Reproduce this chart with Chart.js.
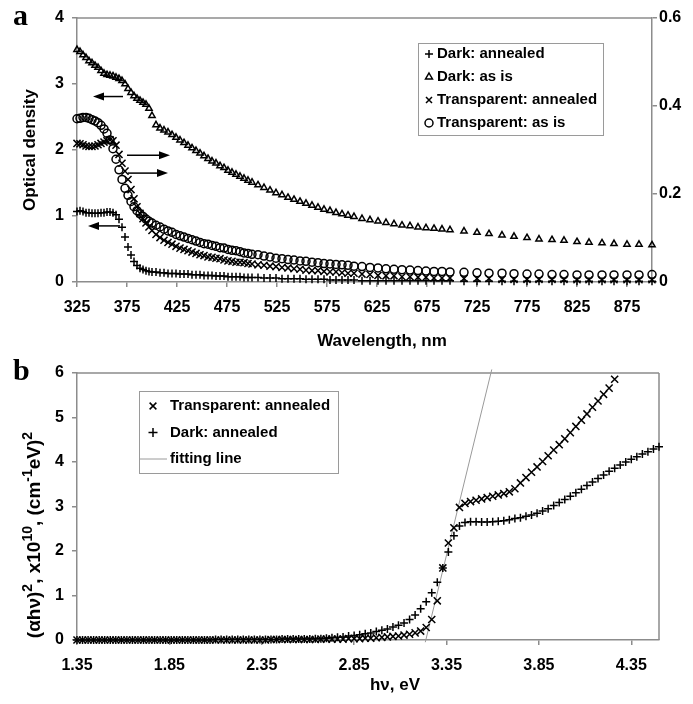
<!DOCTYPE html>
<html>
<head>
<meta charset="utf-8">
<script src="https://cdn.jsdelivr.net/npm/chart.js@4.4.1/dist/chart.umd.min.js"></script>
<style>
  body { margin: 0; background: #fff; }
  #wrap { position: relative; width: 693px; height: 704px; background: #fff; }
  canvas { position: absolute; left: 0; }
  #chartA { top: 0; }
  #chartB { top: 352px; }
</style>
</head>
<body>
<div id="wrap">
  <canvas id="chartA" width="693" height="352"></canvas>
  <canvas id="chartB" width="693" height="352"></canvas>
</div>
<script>
// ---------- panel a: optical density vs wavelength ----------
var wavelengths = [
  325, 328, 331, 334, 337, 340, 343, 346, 349, 352, 355, 358, 361, 364, 367, 370, 373, 376, 379, 382, 385, 388, 391, 394, 397, 400,
  404, 408, 412, 416, 420, 424, 428, 432, 436, 440, 444, 448, 452, 456, 460, 464, 468, 472, 476, 480, 484, 488, 492, 496, 500,
  506, 512, 518, 524, 530, 536, 542, 548, 554, 560, 566, 572, 578, 584, 590, 596, 602,
  610, 618, 626, 634, 642, 650, 658, 666, 674, 682, 690, 698,
  712, 725, 737, 750, 762, 775, 787, 800, 812, 825, 837, 850, 862, 875, 887, 900
];
// left axis
var darkAnnealed = [
  1.07, 1.08, 1.07, 1.05, 1.05, 1.04, 1.04, 1.04, 1.05, 1.05, 1.06, 1.06, 1.05, 1.02, 0.95, 0.83, 0.68, 0.53, 0.41, 0.31, 0.25, 0.21, 0.19, 0.17, 0.16, 0.15,
  0.15, 0.14, 0.14, 0.13, 0.13, 0.13, 0.12, 0.12, 0.12, 0.11, 0.11, 0.11, 0.10, 0.10, 0.10, 0.09, 0.09, 0.09, 0.08, 0.08, 0.08, 0.08, 0.07, 0.07, 0.07,
  0.07, 0.06, 0.06, 0.06, 0.05, 0.05, 0.05, 0.05, 0.04, 0.04, 0.04, 0.04, 0.03, 0.03, 0.03, 0.03, 0.03,
  0.02, 0.02, 0.02, 0.02, 0.02, 0.02, 0.02, 0.02, 0.02, 0.02, 0.02, 0.02,
  0.01, 0.01, 0.01, 0.01, 0.01, 0.01, 0.01, 0.01, 0.01, 0.01, 0.01, 0.01, 0.01, 0.01, 0.01, 0.01
];
var darkAsIs = [
  3.52, 3.49, 3.44, 3.40, 3.35, 3.32, 3.28, 3.25, 3.20, 3.16, 3.14, 3.13, 3.12, 3.10, 3.08, 3.05, 3.00, 2.93, 2.87, 2.82, 2.78, 2.75, 2.72, 2.69, 2.63, 2.52,
  2.38, 2.33, 2.30, 2.27, 2.23, 2.19, 2.15, 2.11, 2.07, 2.03, 1.99, 1.95, 1.91, 1.87, 1.83, 1.80, 1.76, 1.73, 1.69, 1.66, 1.63, 1.60, 1.57, 1.54, 1.51,
  1.47, 1.43, 1.39, 1.35, 1.32, 1.28, 1.25, 1.22, 1.19, 1.16, 1.13, 1.10, 1.08, 1.05, 1.03, 1.01, 0.99,
  0.96, 0.94, 0.92, 0.90, 0.88, 0.86, 0.85, 0.83, 0.82, 0.81, 0.80, 0.79,
  0.77, 0.75, 0.73, 0.71, 0.69, 0.67, 0.65, 0.64, 0.63, 0.61, 0.60, 0.59, 0.58, 0.57, 0.57, 0.56
];
// right axis
var transparentAnnealed = [
  0.315, 0.314, 0.312, 0.309, 0.308, 0.308, 0.309, 0.312, 0.315, 0.318, 0.321, 0.323, 0.321, 0.311, 0.290, 0.270, 0.252, 0.233, 0.210, 0.189, 0.171, 0.156, 0.144, 0.134, 0.125, 0.117,
  0.108, 0.101, 0.095, 0.090, 0.086, 0.081, 0.077, 0.074, 0.071, 0.068, 0.065, 0.062, 0.060, 0.057, 0.056, 0.054, 0.053, 0.050, 0.048, 0.047, 0.045, 0.045, 0.044, 0.042, 0.041,
  0.039, 0.038, 0.036, 0.035, 0.033, 0.032, 0.030, 0.029, 0.027, 0.026, 0.026, 0.024, 0.023, 0.023, 0.021, 0.020, 0.020,
  0.018, 0.017, 0.015, 0.014, 0.014, 0.012, 0.012, 0.011, 0.011, 0.009, 0.009, 0.009,
  0.008, 0.008, 0.008, 0.006, 0.006, 0.006, 0.006, 0.006, 0.006, 0.005, 0.005, 0.005, 0.005, 0.005, 0.005, 0.005
];
var transparentAsIs = [
  0.371, 0.372, 0.374, 0.374, 0.372, 0.369, 0.366, 0.362, 0.356, 0.348, 0.338, 0.323, 0.303, 0.279, 0.255, 0.233, 0.213, 0.197, 0.183, 0.171, 0.162, 0.155, 0.149, 0.143, 0.138, 0.134,
  0.129, 0.125, 0.120, 0.116, 0.113, 0.108, 0.105, 0.102, 0.099, 0.096, 0.093, 0.090, 0.087, 0.086, 0.083, 0.081, 0.078, 0.077, 0.074, 0.072, 0.071, 0.069, 0.066, 0.065, 0.063,
  0.062, 0.059, 0.057, 0.054, 0.053, 0.051, 0.050, 0.048, 0.047, 0.045, 0.044, 0.042, 0.041, 0.040, 0.039, 0.038, 0.036,
  0.035, 0.033, 0.032, 0.030, 0.029, 0.028, 0.027, 0.026, 0.025, 0.024, 0.024, 0.023,
  0.022, 0.021, 0.020, 0.020, 0.019, 0.018, 0.018, 0.017, 0.017, 0.016, 0.016, 0.016, 0.016, 0.016, 0.016, 0.017
];
var wavelengthTicks = [325, 375, 425, 475, 525, 575, 625, 675, 725, 775, 825, 875];
var odTicks = [0, 1, 2, 3, 4];
var odRightTicks = [0, 0.2, 0.4, 0.6];

// ---------- panel b: (alpha h nu)^2 vs photon energy ----------
var energies = [
  1.35, 1.38, 1.41, 1.44, 1.47, 1.50, 1.53, 1.56, 1.59, 1.62,
  1.65, 1.68, 1.71, 1.74, 1.77, 1.80, 1.83, 1.86, 1.89, 1.92,
  1.95, 1.98, 2.01, 2.04, 2.07, 2.10, 2.13, 2.16, 2.19, 2.22,
  2.25, 2.28, 2.31, 2.34, 2.37, 2.40, 2.43, 2.46, 2.49, 2.52,
  2.55, 2.58, 2.61, 2.64, 2.67, 2.70, 2.73, 2.76, 2.79, 2.82,
  2.85, 2.88, 2.91, 2.94, 2.97, 3.00, 3.03, 3.06, 3.09, 3.12,
  3.15, 3.18, 3.21, 3.24, 3.27, 3.30, 3.33, 3.36, 3.39, 3.42,
  3.45, 3.48, 3.51, 3.54, 3.57, 3.60, 3.63, 3.66, 3.69, 3.72,
  3.75, 3.78, 3.81, 3.84, 3.87, 3.90, 3.93, 3.96, 3.99, 4.02,
  4.05, 4.08, 4.11, 4.14, 4.17, 4.20, 4.23, 4.26, 4.29, 4.32,
  4.35, 4.38, 4.41, 4.44, 4.47, 4.50
];
var tTransparentAnnealed = [
  0.00, 0.00, 0.00, 0.00, 0.00, 0.00, 0.00, 0.00, 0.00, 0.00,
  0.00, 0.00, 0.00, 0.00, 0.00, 0.00, 0.00, 0.00, 0.00, 0.00,
  0.00, 0.00, 0.00, 0.00, 0.00, 0.00, 0.00, 0.00, 0.00, 0.00,
  0.00, 0.00, 0.00, 0.00, 0.00, 0.01, 0.01, 0.01, 0.01, 0.01,
  0.01, 0.01, 0.01, 0.01, 0.02, 0.02, 0.02, 0.02, 0.02, 0.03,
  0.03, 0.03, 0.04, 0.04, 0.05, 0.06, 0.07, 0.08, 0.09, 0.11,
  0.13, 0.16, 0.20, 0.28, 0.46, 0.88, 1.62, 2.18, 2.52, 2.98,
  3.07, 3.11, 3.14, 3.17, 3.20, 3.23, 3.26, 3.29, 3.33, 3.40,
  3.53, 3.65, 3.77, 3.89, 4.01, 4.14, 4.27, 4.39, 4.52, 4.66,
  4.80, 4.94, 5.08, 5.23, 5.37, 5.52, 5.66, 5.86, null, null,
  null, null, null, null, null, null
];
var tDarkAnnealed = [
  0.00, 0.00, 0.00, 0.00, 0.00, 0.00, 0.00, 0.00, 0.00, 0.00,
  0.00, 0.00, 0.00, 0.00, 0.00, 0.00, 0.00, 0.00, 0.00, 0.00,
  0.00, 0.00, 0.00, 0.00, 0.00, 0.01, 0.01, 0.01, 0.01, 0.01,
  0.01, 0.01, 0.01, 0.01, 0.01, 0.01, 0.01, 0.02, 0.02, 0.02,
  0.02, 0.02, 0.02, 0.03, 0.03, 0.04, 0.05, 0.06, 0.07, 0.09,
  0.10, 0.12, 0.14, 0.16, 0.19, 0.22, 0.25, 0.29, 0.33, 0.38,
  0.46, 0.56, 0.70, 0.86, 1.06, 1.30, 1.62, 1.98, 2.34, 2.56,
  2.64, 2.66, 2.66, 2.65, 2.65, 2.66, 2.67, 2.68, 2.70, 2.73,
  2.75, 2.78, 2.81, 2.85, 2.90, 2.95, 3.02, 3.09, 3.16, 3.23,
  3.31, 3.39, 3.47, 3.55, 3.63, 3.71, 3.79, 3.86, 3.93, 4.00,
  4.06, 4.12, 4.18, 4.23, 4.29, 4.34
];
var fitLineX = [3.235, 3.595];
var fitLineY = [-0.05, 6.08];
var energyTicks = [1.35, 1.85, 2.35, 2.85, 3.35, 3.85, 4.35];
var tTicks = [0, 1, 2, 3, 4, 5, 6];

var AXIS_GRAY = '#8c8c8c';
var SANS = '"Liberation Sans", Arial, Helvetica, sans-serif';
Chart.defaults.font.family = SANS;
Chart.defaults.font.weight = 'bold';
Chart.defaults.color = '#000';

function pts(xs, ys) {
  var out = [];
  for (var i = 0; i < xs.length; i++) {
    if (ys[i] !== null) out.push({ x: xs[i], y: ys[i] });
  }
  return out;
}

function fixedTicks(values) {
  return function (scale) {
    scale.ticks = values.map(function (v) { return { value: v }; });
  };
}

function tickLabel(v) { return String(v); }

function drawMarker(ctx, style, x, y, r) {
  ctx.beginPath();
  if (style === 'cross') {
    ctx.moveTo(x - r, y); ctx.lineTo(x + r, y);
    ctx.moveTo(x, y - r); ctx.lineTo(x, y + r);
  } else if (style === 'crossRot') {
    var d = r * 0.75;
    ctx.moveTo(x - d, y - d); ctx.lineTo(x + d, y + d);
    ctx.moveTo(x - d, y + d); ctx.lineTo(x + d, y - d);
  } else if (style === 'triangle') {
    ctx.moveTo(x, y - r);
    ctx.lineTo(x + r * 0.866, y + r / 2);
    ctx.lineTo(x - r * 0.866, y + r / 2);
    ctx.closePath();
  } else if (style === 'circle') {
    ctx.arc(x, y, r, 0, Math.PI * 2);
  } else {
    ctx.moveTo(x - r, y); ctx.lineTo(x + r, y);
  }
  ctx.stroke();
}

// axis title made of normal and superscript pieces, centred on (x, y)
function drawTitle(ctx, t) {
  var size = t.size, sup = t.supSize || Math.round(size * 0.65);
  ctx.save();
  ctx.translate(t.x, t.y);
  if (t.rotate) ctx.rotate(-Math.PI / 2);
  var total = 0;
  t.pieces.forEach(function (p) {
    ctx.font = 'bold ' + (p.sup ? sup : size) + 'px ' + SANS;
    p.w = ctx.measureText(p.t).width;
    total += p.w;
  });
  var x = -total / 2, base = size * 0.36;
  ctx.fillStyle = '#000';
  ctx.textAlign = 'left';
  ctx.textBaseline = 'alphabetic';
  t.pieces.forEach(function (p) {
    ctx.font = 'bold ' + (p.sup ? sup : size) + 'px ' + SANS;
    ctx.fillText(p.t, x, p.sup ? base - size * 0.42 : base);
    x += p.w;
  });
  ctx.restore();
}

// frame, arrows, legend box, titles and panel letter
var extrasPlugin = {
  id: 'extras',
  beforeDatasetsDraw: function (chart, args, o) {
    var ctx = chart.ctx, a = chart.chartArea;
    ctx.save();
    ctx.strokeStyle = AXIS_GRAY;
    ctx.lineWidth = 1.5;
    ctx.beginPath();
    ctx.moveTo(a.left, a.top); ctx.lineTo(a.right, a.top);
    if (o.rightEdge) { ctx.moveTo(a.right, a.top); ctx.lineTo(a.right, a.bottom); }
    ctx.stroke();
    ctx.restore();
  },
  afterDraw: function (chart, args, o) {
    var ctx = chart.ctx;
    ctx.save();
    (o.arrows || []).forEach(function (ar) {
      var xs = chart.scales.x, ys = chart.scales.y;
      var x1 = xs.getPixelForValue(ar.from), x2 = xs.getPixelForValue(ar.to), y = ys.getPixelForValue(ar.y);
      var dir = x2 > x1 ? 1 : -1;
      ctx.strokeStyle = '#000'; ctx.fillStyle = '#000'; ctx.lineWidth = 1.5;
      ctx.beginPath(); ctx.moveTo(x1, y); ctx.lineTo(x2 - dir * 8, y); ctx.stroke();
      ctx.beginPath(); ctx.moveTo(x2, y); ctx.lineTo(x2 - dir * 11, y - 4); ctx.lineTo(x2 - dir * 11, y + 4);
      ctx.closePath(); ctx.fill();
    });
    var lg = o.legend;
    if (lg) {
      ctx.fillStyle = '#fff';
      ctx.fillRect(lg.x, lg.y, lg.w, lg.h);
      ctx.strokeStyle = '#9a9a9a'; ctx.lineWidth = 1;
      ctx.strokeRect(lg.x + 0.5, lg.y + 0.5, lg.w, lg.h);
      ctx.font = 'bold 15px ' + SANS;
      ctx.textBaseline = 'middle'; ctx.textAlign = 'left';
      lg.order.forEach(function (di, k) {
        var ds = chart.data.datasets[di];
        var cy = lg.y + lg.first + k * lg.step;
        if (ds.showLine) {
          ctx.strokeStyle = ds.borderColor; ctx.lineWidth = 1;
          drawMarker(ctx, 'line', lg.x + lg.lineHalf, cy, lg.lineHalf);
        } else {
          ctx.strokeStyle = '#000'; ctx.lineWidth = 1.5;
          drawMarker(ctx, ds.pointStyle, lg.x + lg.markerX, cy, lg.markerR);
        }
        ctx.fillStyle = '#000';
        ctx.fillText(ds.label, lg.x + lg.textX, cy);
      });
    }
    (o.titles || []).forEach(function (t) { drawTitle(ctx, t); });
    if (o.letter) {
      ctx.font = 'bold 30px "Liberation Serif", "Times New Roman", serif';
      ctx.fillStyle = '#000'; ctx.textBaseline = 'alphabetic'; ctx.textAlign = 'left';
      ctx.fillText(o.letter.text, o.letter.x, o.letter.y);
    }
    ctx.restore();
  }
};

function markerSet(label, data, style, radius, axisId) {
  return {
    label: label,
    data: data,
    yAxisID: axisId,
    showLine: false,
    pointStyle: style,
    pointRadius: radius,
    pointBorderWidth: 1.5,
    pointBorderColor: '#000',
    pointBackgroundColor: 'rgba(0,0,0,0)',
    clip: false
  };
}

var gridOpts = { drawOnChartArea: false, drawTicks: true, tickLength: 5, tickColor: AXIS_GRAY, lineWidth: 1.5 };
var borderOpts = { color: AXIS_GRAY, width: 1.5 };

new Chart(document.getElementById('chartA'), {
  type: 'scatter',
  data: {
    datasets: [
      markerSet('Dark: annealed', pts(wavelengths, darkAnnealed), 'cross', 4, 'y'),
      markerSet('Dark: as is', pts(wavelengths, darkAsIs), 'triangle', 3.6, 'y'),
      markerSet('Transparent: annealed', pts(wavelengths, transparentAnnealed), 'crossRot', 5, 'y2'),
      markerSet('Transparent: as is', pts(wavelengths, transparentAsIs), 'circle', 4, 'y2')
    ]
  },
  options: {
    responsive: false,
    animation: false,
    events: [],
    devicePixelRatio: 1,
    layout: { padding: { top: 18, left: 0, right: 0, bottom: 0 } },
    scales: {
      x: {
        type: 'linear', position: 'bottom', min: 325, max: 900,
        afterBuildTicks: fixedTicks(wavelengthTicks),
        afterFit: function (s) { s.height = 70; },
        grid: gridOpts, border: borderOpts,
        ticks: { padding: 11, font: { size: 16, weight: 'bold' }, autoSkip: false, maxRotation: 0, callback: tickLabel }
      },
      y: {
        type: 'linear', position: 'left', min: 0, max: 4,
        afterBuildTicks: fixedTicks(odTicks),
        afterFit: function (s) { s.width = 77; },
        grid: gridOpts, border: borderOpts,
        ticks: { padding: 8, font: { size: 16, weight: 'bold' }, callback: tickLabel },
        title: { display: true, text: 'Optical density', font: { size: 17, weight: 'bold' }, padding: { top: 20, bottom: 0 } }
      },
      y2: {
        type: 'linear', position: 'right', min: 0, max: 0.6,
        afterBuildTicks: fixedTicks(odRightTicks),
        afterFit: function (s) { s.width = 41; },
        grid: gridOpts, border: borderOpts,
        ticks: { padding: 2, font: { size: 16, weight: 'bold' }, callback: tickLabel }
      }
    },
    plugins: {
      legend: { display: false },
      tooltip: { enabled: false },
      extras: {
        rightEdge: false,
        arrows: [
          { from: 371, to: 341, y: 2.81 },
          { from: 375, to: 418, y: 1.92 },
          { from: 376, to: 416, y: 1.65 },
          { from: 368, to: 336, y: 0.85 }
        ],
        legend: { x: 418, y: 43, w: 185, h: 92, first: 11, step: 23, markerX: 11, markerR: 4, textX: 19, lineHalf: 14, order: [0, 1, 2, 3] },
        titles: [
          { pieces: [{ t: 'Wavelength, nm' }], x: 382, y: 340, size: 17 }
        ],
        letter: { text: 'a', x: 13, y: 25 }
      }
    }
  },
  plugins: [extrasPlugin]
});

var fitSet = {
  label: 'fitting line',
  data: pts(fitLineX, fitLineY),
  showLine: true,
  borderColor: '#9a9a9a',
  borderWidth: 1,
  pointRadius: 0,
  clip: false
};

new Chart(document.getElementById('chartB'), {
  type: 'scatter',
  data: {
    datasets: [
      markerSet('Transparent: annealed', pts(energies, tTransparentAnnealed), 'crossRot', 5, 'y'),
      markerSet('Dark: annealed', pts(energies, tDarkAnnealed), 'cross', 4, 'y'),
      fitSet
    ]
  },
  options: {
    responsive: false,
    animation: false,
    events: [],
    devicePixelRatio: 1,
    layout: { padding: { top: 21, left: 0, right: 34, bottom: 0 } },
    scales: {
      x: {
        type: 'linear', position: 'bottom', min: 1.35, max: 4.5,
        afterBuildTicks: fixedTicks(energyTicks),
        afterFit: function (s) { s.height = 64; },
        grid: gridOpts, border: borderOpts,
        ticks: { padding: 11, font: { size: 16, weight: 'bold' }, autoSkip: false, maxRotation: 0, callback: tickLabel }
      },
      y: {
        type: 'linear', position: 'left', min: 0, max: 6,
        afterBuildTicks: fixedTicks(tTicks),
        afterFit: function (s) { s.width = 77; },
        grid: gridOpts, border: borderOpts,
        ticks: { padding: 8, font: { size: 16, weight: 'bold' }, callback: tickLabel }
      }
    },
    plugins: {
      legend: { display: false },
      tooltip: { enabled: false },
      extras: {
        rightEdge: true,
        legend: { x: 139, y: 39, w: 199, h: 82, first: 15, step: 26.5, markerX: 14, markerR: 4.5, textX: 31, lineHalf: 14, order: [0, 1, 2] },
        titles: [
          { pieces: [{ t: 'h\u03bd, eV' }], x: 395, y: 332, size: 17 },
          { pieces: [
              { t: '(\u03b1h\u03bd)' }, { t: '2', sup: true },
              { t: ', x10' }, { t: '10', sup: true },
              { t: ', (cm' }, { t: '-1', sup: true },
              { t: 'eV)' }, { t: '2', sup: true }
            ], x: 33, y: 183, size: 19, supSize: 14, rotate: true }
        ],
        letter: { text: 'b', x: 13, y: 28 }
      }
    }
  },
  plugins: [extrasPlugin]
});
</script>
</body>
</html>
